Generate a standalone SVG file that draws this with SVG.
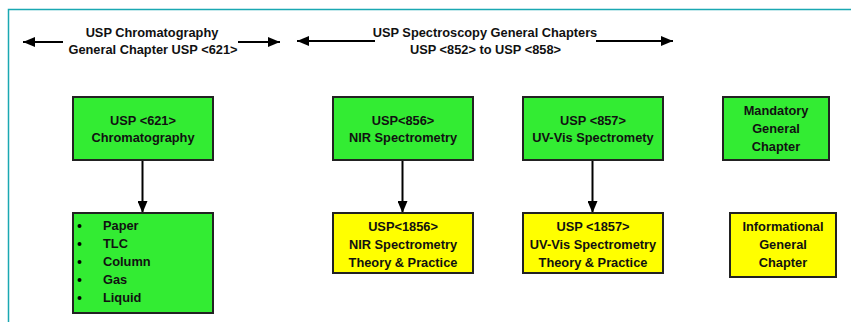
<svg xmlns="http://www.w3.org/2000/svg" width="851" height="322" viewBox="0 0 851 322">
<style>
text{font-family:"Liberation Sans",Arial,sans-serif;font-weight:bold;font-size:12.8px;fill:#111;text-anchor:middle}
.l{text-anchor:start}
.g{fill:#33ec33;stroke:#222;stroke-width:2}
.y{fill:#ffff00;stroke:#222;stroke-width:2}
.c{stroke:#000;stroke-width:2;fill:none}
</style>
<defs>
<marker id="ah" viewBox="0 0 12 10" refX="12" refY="5" markerWidth="12" markerHeight="10" markerUnits="userSpaceOnUse" orient="auto">
<path d="M0,0 L12,5 L0,10 Z" fill="#000"/>
</marker>
</defs>
<rect width="851" height="322" fill="#fff"/>
<path d="M8.5,322 V9.5 H851" fill="none" stroke="#1aa8b2" stroke-width="1.5"/>

<g id="header-chromatography">
<text x="152" y="37">USP Chromatography</text>
<text x="153" y="54">General Chapter USP &lt;621&gt;</text>
</g>
<g id="header-spectroscopy">
<text x="485" y="37">USP Spectroscopy General Chapters</text>
<text x="485.5" y="54">USP &lt;852&gt; to USP &lt;858&gt;</text>
</g>

<g id="connectors">
<line class="c" x1="63" y1="42" x2="23" y2="42" marker-end="url(#ah)"/>
<line class="c" x1="238" y1="42" x2="280" y2="42" marker-end="url(#ah)"/>
<line class="c" x1="375" y1="41" x2="297" y2="41" marker-end="url(#ah)"/>
<line class="c" x1="596" y1="41" x2="673" y2="41" marker-end="url(#ah)"/>
<line class="c" x1="142.5" y1="160" x2="142.5" y2="213" marker-end="url(#ah)"/>
<line class="c" x1="402.5" y1="160" x2="402.5" y2="213" marker-end="url(#ah)"/>
<line class="c" x1="592.5" y1="160" x2="592.5" y2="213" marker-end="url(#ah)"/>
</g>

<g id="usp621">
<rect class="g" x="73" y="97" width="140" height="63"/>
<text x="143" y="124.5">USP &lt;621&gt;</text>
<text x="143" y="142">Chromatography</text>
</g>
<g id="usp621-list">
<rect class="g" x="73" y="213" width="140" height="100"/>
<g fill="#000">
<circle cx="79.5" cy="226" r="2"/>
<circle cx="79.5" cy="244" r="2"/>
<circle cx="79.5" cy="262" r="2"/>
<circle cx="79.5" cy="280" r="2"/>
<circle cx="79.5" cy="298" r="2"/>
</g>
<text class="l" x="103" y="230">Paper</text>
<text class="l" x="103" y="248">TLC</text>
<text class="l" x="103" y="266">Column</text>
<text class="l" x="103" y="284">Gas</text>
<text class="l" x="103" y="302">Liquid</text>
</g>

<g id="usp856">
<rect class="g" x="333" y="97" width="140" height="63"/>
<text x="403" y="124.5">USP&lt;856&gt;</text>
<text x="403" y="142">NIR Spectrometry</text>
</g>
<g id="usp1856">
<rect class="y" x="333" y="213" width="140" height="60"/>
<text x="403" y="231">USP&lt;1856&gt;</text>
<text x="403" y="249">NIR Spectrometry</text>
<text x="403" y="267">Theory &amp; Practice</text>
</g>

<g id="usp857">
<rect class="g" x="523" y="97" width="140" height="63"/>
<text x="593" y="124.5">USP &lt;857&gt;</text>
<text x="593" y="142">UV-Vis Spectromety</text>
</g>
<g id="usp1857">
<rect class="y" x="523" y="213" width="140" height="60"/>
<text x="593" y="231">USP &lt;1857&gt;</text>
<text x="593" y="249">UV-Vis Spectrometry</text>
<text x="593" y="267">Theory &amp; Practice</text>
</g>

<g id="legend-mandatory">
<rect class="g" x="723" y="97" width="106" height="63"/>
<text x="776" y="115">Mandatory</text>
<text x="776" y="133">General</text>
<text x="776" y="151">Chapter</text>
</g>
<g id="legend-informational">
<rect class="y" x="730" y="213" width="106" height="64"/>
<text x="783" y="231">Informational</text>
<text x="783" y="249">General</text>
<text x="783" y="267">Chapter</text>
</g>
</svg>
